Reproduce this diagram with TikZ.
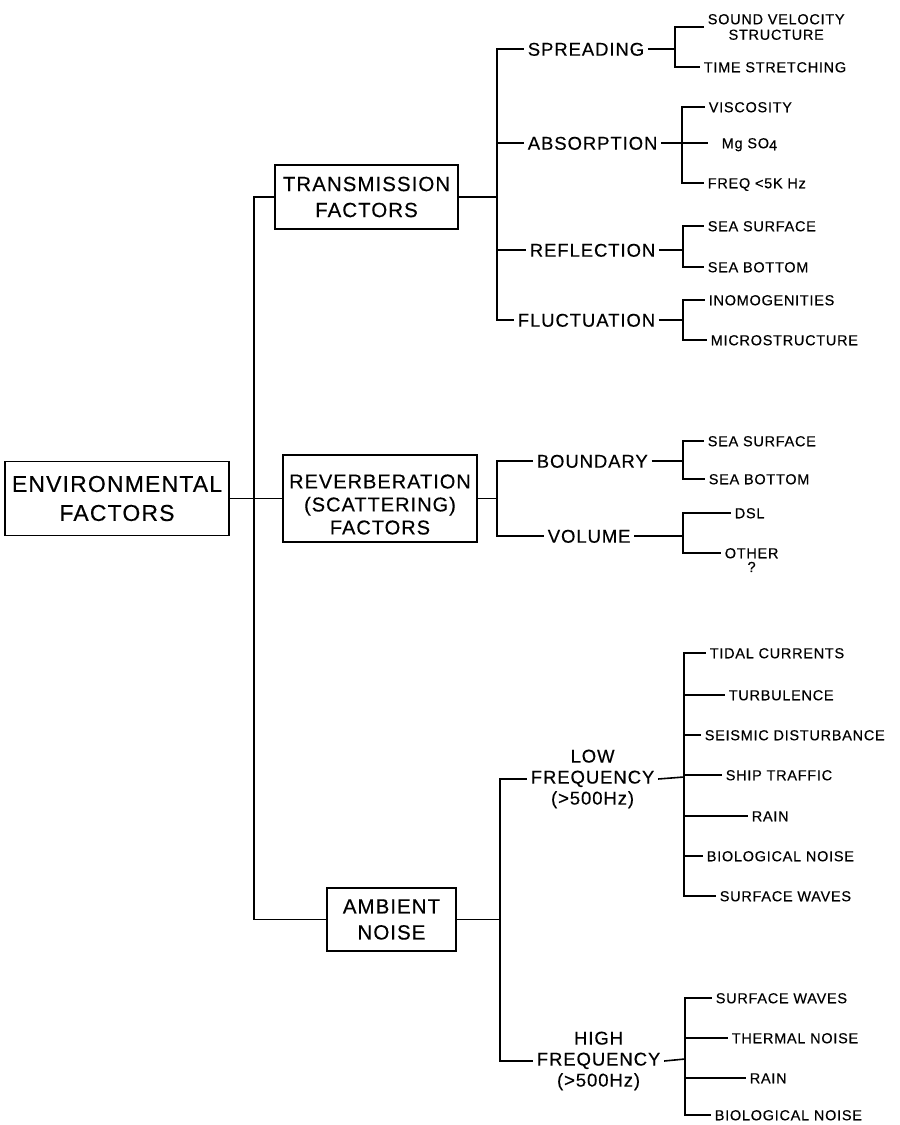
\documentclass[tikz,border=0pt]{standalone}
\usepackage{fontspec}
\setmainfont{Liberation Sans}
\newfontfamily\lettering[LetterSpace=5,FakeBold=0.4]{Liberation Sans}
\usetikzlibrary{positioning}

\begin{document}
\begin{tikzpicture}[x=1pt,y=-1pt,line width=1.6pt,
    box/.style={draw,align=center,inner sep=0pt,font=\lettering\fontsize{20.5}{26}\selectfont},
    grp/.style={anchor=west,inner xsep=3pt,inner ysep=0pt,align=center,font=\lettering\fontsize{18.5}{21}\selectfont},
    grp1/.style={grp,text height=13.4pt,text depth=0pt},
    leaf/.style={anchor=west,inner xsep=3pt,inner ysep=0pt,align=center,font=\lettering\fontsize{14.5}{15.5}\selectfont},
    leaf1/.style={leaf,text height=10.5pt,text depth=0pt}]
  \useasboundingbox (0,0) rectangle (900,1125);

  \node[box,minimum width=224pt,minimum height=74pt,font=\lettering\fontsize{23}{29}\selectfont] (env) at (117,498.5) {ENVIRONMENTAL\\FACTORS};
  \node[box,minimum width=183pt,minimum height=64pt] (trans) at (366.5,197) {TRANSMISSION\\FACTORS};
  \node[box,minimum width=194pt,minimum height=87pt,font=\lettering\fontsize{20}{23}\selectfont] (reverb) at (380,498.5) {\rule{0pt}{26pt}REVERBERATION\\(SCATTERING)\\FACTORS};
  \node[box,minimum width=129pt,minimum height=63pt] (amb) at (391.5,919.5) {AMBIENT\\NOISE};

  \node[grp1] (spread)  at (524,49)   {SPREADING};
  \node[grp1] (absorb)  at (524,143)  {ABSORPTION};
  \node[grp1] (reflect) at (526,250)  {REFLECTION};
  \node[grp1] (fluct)   at (514,320)  {FLUCTUATION};
  \node[grp1] (bound)   at (533,461)  {BOUNDARY};
  \node[grp1] (vol)     at (544,536)  {VOLUME};
  \node[grp] (low)      at (527,779)  {LOW\\FREQUENCY\\(>500Hz)};
  \node[grp] (high)     at (533,1061) {HIGH\\FREQUENCY\\(>500Hz)};

  \node[leaf] (sound)    at (704,27)  {SOUND VELOCITY\\STRUCTURE};
  \node[leaf1] (stretch) at (700,67)  {TIME STRETCHING};
  \node[leaf1] (visc)    at (705,107) {VISCOSITY};
  \node[leaf1] (mg)      at (718,143) {Mg SO\raisebox{-2pt}{4}};
  \node[leaf1] (freq)    at (704,183) {FREQ <5K Hz};
  \node[leaf1] (surf1)   at (704,226) {SEA SURFACE};
  \node[leaf1] (bot1)    at (704,267) {SEA BOTTOM};
  \node[leaf1] (inhom)   at (705,300) {INOMOGENITIES};
  \node[leaf1] (micro)   at (707,340) {MICROSTRUCTURE};
  \node[leaf1] (surf2)   at (704,441) {SEA SURFACE};
  \node[leaf1] (bot2)    at (705,479) {SEA BOTTOM};
  \node[leaf1] (dsl)     at (731,513) {DSL};
  \node[leaf1] (other)   at (721,553) {OTHER};
  \node[leaf,below=2pt of other] (otherq) {?};

  \node[leaf1] (tidal)  at (706,653) {TIDAL CURRENTS};
  \node[leaf1] (turb)   at (725,695) {TURBULENCE};
  \node[leaf1] (seis)   at (701,735) {SEISMIC DISTURBANCE};
  \node[leaf1] (ship)   at (722,775) {SHIP TRAFFIC};
  \node[leaf1] (rain1)  at (748,816) {RAIN};
  \node[leaf1] (bio1)   at (703,856) {BIOLOGICAL NOISE};
  \node[leaf1] (waves1) at (716,896) {SURFACE WAVES};

  \node[leaf1] (waves2) at (712,998)  {SURFACE WAVES};
  \node[leaf1] (therm)  at (728,1038) {THERMAL NOISE};
  \node[leaf1] (rain2)  at (746,1078) {RAIN};
  \node[leaf1] (bio2)   at (711,1115) {BIOLOGICAL NOISE};

  % branch points
  \coordinate (ej) at (254,498.5);
  \coordinate (tj) at (497,197);
  \coordinate (rj) at (497,498.5);
  \coordinate (aj) at (500,919.5);
  \coordinate (sj) at (675,49);
  \coordinate (abj) at (682,143);
  \coordinate (mgend) at (708,143);
  \coordinate (rfj) at (683,250);
  \coordinate (fj) at (683,320);
  \coordinate (bj) at (683,461);
  \coordinate (vj) at (683,536);
  \coordinate (lj) at (684,777);
  \coordinate (hj) at (685,1059);

  \draw (env.east) -- (reverb.west);
  \draw (trans.west) -| (ej) |- (amb.west);

  \draw (trans.east) -- (tj) (tj) |- (spread.west) (tj) |- (fluct.west)
        (tj) |- (absorb.west) (tj) |- (reflect.west);
  \draw (reverb.east) -- (rj) (rj) |- (bound.west) (rj) |- (vol.west);
  \draw (amb.east) -- (aj) (aj) |- (low.west) (aj) |- (high.west);

  \draw (spread.east) -- (sj) (sj) |- (sound.west) (sj) |- (stretch.west);
  \draw (absorb.east) -- (mgend) (abj) |- (visc.west) (abj) |- (freq.west);
  \draw (reflect.east) -- (rfj) (rfj) |- (surf1.west) (rfj) |- (bot1.west);
  \draw (fluct.east) -- (fj) (fj) |- (inhom.west) (fj) |- (micro.west);
  \draw (bound.east) -- (bj) (bj) |- (surf2.west) (bj) |- (bot2.west);
  \draw (vol.east) -- (vj) (vj) |- (dsl.west) (vj) |- (other.west);

  \draw (low.east) -- (lj);
  \foreach \n in {tidal,turb,seis,ship,rain1,bio1,waves1}
    \draw (lj) |- (\n.west);
  \draw (high.east) -- (hj);
  \foreach \n in {waves2,therm,rain2,bio2}
    \draw (hj) |- (\n.west);
\end{tikzpicture}
\end{document}
